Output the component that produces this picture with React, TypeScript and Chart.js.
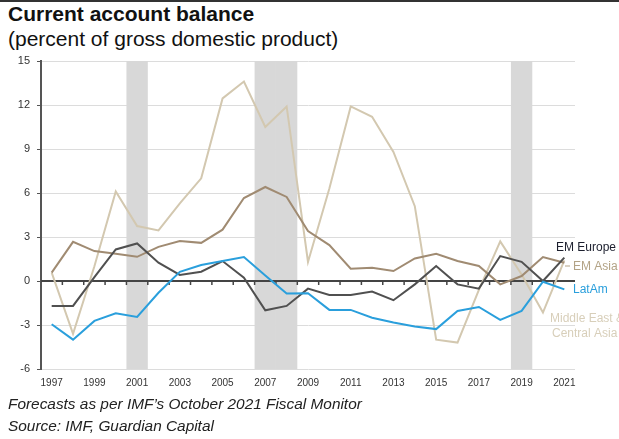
import React, { useEffect, useRef } from "react";
import { Chart, registerables } from "chart.js";

Chart.register(...registerables);

const years = [
  "1997", "1998", "1999", "2000", "2001", "2002", "2003", "2004", "2005", "2006",
  "2007", "2008", "2009", "2010", "2011", "2012", "2013", "2014", "2015", "2016",
  "2017", "2018", "2019", "2020", "2021",
];

const emEurope = [
  -1.7, -1.7, 0.27, 2.15, 2.56, 1.25, 0.41, 0.63, 1.36, 0.23,
  -2.0, -1.7, -0.52, -0.95, -0.95, -0.72, -1.31, -0.23, 1.02, -0.23,
  -0.52, 1.7, 1.31, 0.0, 1.59,
];

const emAsia = [
  0.57, 2.67, 2.04, 1.86, 1.65, 2.33, 2.72, 2.6, 3.5, 5.66,
  6.41, 5.73, 3.4, 2.45, 0.84, 0.9, 0.68, 1.54, 1.86, 1.36,
  1.02, -0.23, 0.34, 1.63, 1.25,
];

const latAm = [
  -2.95, -4.0, -2.72, -2.2, -2.45, -0.8, 0.63, 1.09, 1.36, 1.63,
  0.38, -0.86, -0.84, -1.97, -1.97, -2.5, -2.83, -3.1, -3.28, -2.04,
  -1.77, -2.65, -2.04, -0.05, -0.57,
];

const middleEastCentralAsia = [
  0.57, -3.6, 1.0, 6.1, 3.75, 3.45, 5.3, 7.0, 12.45, 13.6,
  10.5, 11.9, 1.3, 6.3, 11.9, 11.2, 8.8, 5.1, -4.0, -4.2,
  -0.6, 2.7, 0.45, -2.15, 1.4,
];

const shadedYears = ["2001", "2007", "2008", "2019"];

const COLORS = {
  europe: "#505050",
  asia: "#a08b72",
  latam: "#2a9fdc",
  meca: "#d3c8b0",
};

const FONT = "'Liberation Sans', Arial, sans-serif";

const overlayPlugin = {
  id: "overlay",
  beforeDatasetsDraw(chart: any) {
    const { ctx, chartArea, scales } = chart;
    const x = scales.x;
    const y = scales.y;
    const band = x.getPixelForValue(1) - x.getPixelForValue(0);
    ctx.save();
    ctx.fillStyle = "#d8d8d8";
    shadedYears.forEach((yr) => {
      const i = years.indexOf(yr);
      const c = x.getPixelForValue(i);
      ctx.fillRect(c - band / 2, chartArea.top, band, chartArea.bottom - chartArea.top);
    });
    const y0 = y.getPixelForValue(0);
    ctx.strokeStyle = "#444";
    ctx.lineWidth = 2;
    ctx.beginPath();
    ctx.moveTo(chartArea.left, y0);
    ctx.lineTo(chartArea.right, y0);
    ctx.stroke();
    ctx.lineWidth = 1.5;
    for (let i = 1; i < years.length; i++) {
      const bx = x.getPixelForValue(i) - band / 2;
      ctx.beginPath();
      ctx.moveTo(bx, y0);
      ctx.lineTo(bx, y0 + 4);
      ctx.stroke();
    }
    ctx.restore();
  },
  afterDraw(chart: any) {
    const { ctx } = chart;
    ctx.save();
    ctx.font = `12px ${FONT}`;
    ctx.textBaseline = "middle";
    ctx.textAlign = "left";
    ctx.fillStyle = "#1c1f2e";
    ctx.fillText("EM Europe", 556, 248);
    ctx.fillStyle = "#b3a386";
    ctx.fillText("EM Asia", 573, 267);
    ctx.strokeStyle = "#b3a386";
    ctx.lineWidth = 1;
    ctx.beginPath();
    ctx.moveTo(565, 266);
    ctx.lineTo(570, 266);
    ctx.stroke();
    ctx.fillStyle = COLORS.latam;
    ctx.fillText("LatAm", 573, 290);
    ctx.fillStyle = "#d8cfba";
    ctx.fillText("Middle East &", 550, 319);
    ctx.fillText("Central Asia", 552, 334);
    ctx.restore();
  },
};

export default function App() {
  const ref = useRef<HTMLCanvasElement | null>(null);

  useEffect(() => {
    if (!ref.current) return;
    const mk = (label: string, data: number[], color: string, order: number) => ({
      label,
      data,
      borderColor: color,
      backgroundColor: color,
      borderWidth: 2,
      pointRadius: 0,
      tension: 0,
      fill: false,
      order,
    });
    const chart = new Chart(ref.current, {
      type: "line",
      data: {
        labels: years,
        datasets: [
          mk("Middle East & Central Asia", middleEastCentralAsia, COLORS.meca, 4),
          mk("EM Asia", emAsia, COLORS.asia, 3),
          mk("EM Europe", emEurope, COLORS.europe, 2),
          mk("LatAm", latAm, COLORS.latam, 1),
        ],
      },
      options: {
        animation: false,
        responsive: false,
        devicePixelRatio: 1,
        layout: { padding: { left: 0, top: 61, right: 44, bottom: 50 } },
        plugins: {
          legend: { display: false },
          tooltip: { enabled: false },
        },
        scales: {
          x: {
            type: "category",
            offset: true,
            grid: { display: false, drawTicks: false },
            border: { display: false },
            ticks: {
              autoSkip: false,
              maxRotation: 0,
              minRotation: 0,
              padding: 8,
              color: "#333",
              font: { size: 10, family: FONT },
              callback: (_v: any, i: number) => (i % 2 === 0 ? years[i] : ""),
            },
            afterFit: (s: any) => {
              s.height = 20;
            },
          },
          y: {
            min: -6,
            max: 15,
            ticks: {
              stepSize: 3,
              padding: 7,
              color: "#333",
              font: { size: 11, family: FONT },
            },
            grid: {
              color: "#dcdcdc",
              lineWidth: 1,
              tickLength: 4,
              tickColor: "#555",
            },
            border: { color: "#555", width: 2 },
            afterFit: (s: any) => {
              s.width = 41;
            },
          },
        },
      },
      plugins: [overlayPlugin],
    } as any);
    return () => chart.destroy();
  }, []);

  return (
    <div
      style={{
        position: "absolute",
        left: 0,
        top: 0,
        width: 619,
        height: 439,
        overflow: "hidden",
        background: "#fff",
        fontFamily: FONT,
      }}
    >
      <div style={{ position: "absolute", left: 0, top: 0, width: 619, height: 2, background: "#333" }} />
      <div style={{ position: "absolute", left: 8, top: 2, fontSize: 21, lineHeight: "24px", fontWeight: "bold", color: "#111", whiteSpace: "nowrap" }}>
        Current account balance
      </div>
      <div style={{ position: "absolute", left: 8, top: 27, fontSize: 21, lineHeight: "24px", color: "#111", whiteSpace: "nowrap" }}>
        (percent of gross domestic product)
      </div>
      <canvas ref={ref} width={619} height={439} style={{ position: "absolute", left: 0, top: 0, width: 619, height: 439 }} />
      <div style={{ position: "absolute", left: 8, top: 395, fontSize: 15.4, lineHeight: "18px", fontStyle: "italic", color: "#222", whiteSpace: "nowrap" }}>
        Forecasts as per IMF’s October 2021 Fiscal Monitor
      </div>
      <div style={{ position: "absolute", left: 8, top: 417, fontSize: 15.4, lineHeight: "18px", fontStyle: "italic", color: "#222", whiteSpace: "nowrap" }}>
        Source: IMF, Guardian Capital
      </div>
    </div>
  );
}
